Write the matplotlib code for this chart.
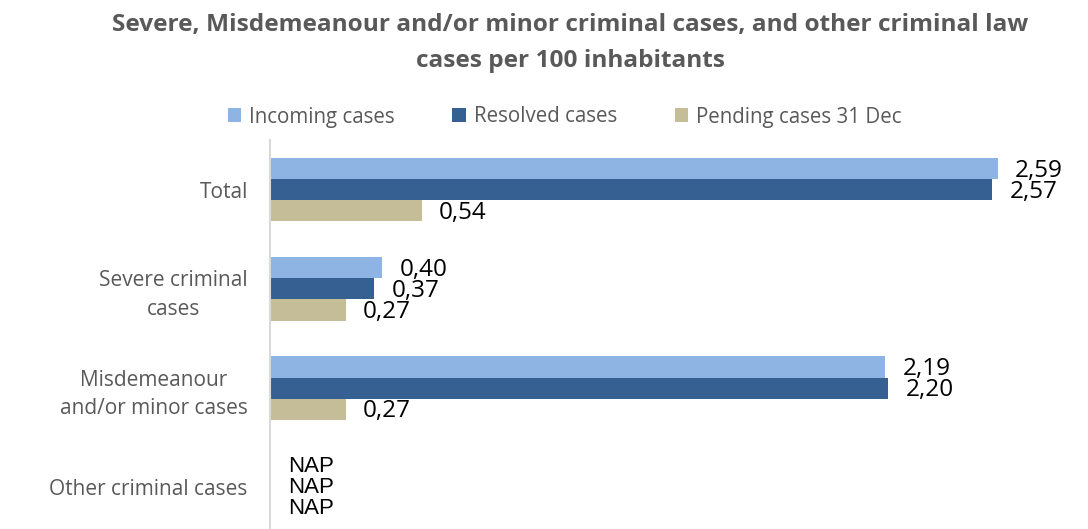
import numpy as np
import matplotlib.pyplot as plt

categories = ["Total", "Severe criminal\ncases", "Misdemeanour\nand/or minor cases", "Other criminal cases"]
series = ["Incoming cases", "Resolved cases", "Pending cases 31 Dec"]
incoming = [2.59, 0.40, 2.19, np.nan]
resolved = [2.57, 0.37, 2.20, np.nan]
pending = [0.54, 0.27, 0.27, np.nan]
colors = ["#8EB4E3", "#376092", "#C4BD97"]

fig = plt.figure(figsize=(10.88, 5.29), dpi=100)
W, H = 1088, 529
# axes spans from y=140px down to below the bottom edge (cropped in original)
ax = fig.add_axes([270 / W, 1 - 537 / H, (1085 - 270) / W, (537 - 140) / H])

y = np.arange(len(categories))
bh = 0.213
for i, (vals, col, name) in enumerate(zip([incoming, resolved, pending], colors, series)):
    pos = y + (i - 1) * bh
    ax.barh(pos, vals, height=bh, color=col, label=name)
    for p, v in zip(pos, vals):
        if np.isnan(v):
            ax.annotate("NAP", (0, p), xytext=(13, 0), textcoords="offset points",
                        va="center", ha="left", fontsize=16, family="Liberation Sans",
                        color="black")
        else:
            ax.annotate(f"{v:.2f}".replace(".", ","), (v, p), xytext=(12.5, -1.5),
                        textcoords="offset points", va="center", ha="left",
                        fontsize=17.5, family="Open Sans", color="black")

ax.set_ylim(3.5, -0.5)
ax.set_xlim(0, 2.9)
ax.set_yticks(y)
ax.set_yticklabels(categories, family="Open Sans", fontsize=15, color="#595959",
                   multialignment="center", linespacing=1.45)
ax.tick_params(axis="y", length=0, pad=16)
ax.set_xticks([])
for s in ["top", "right", "bottom"]:
    ax.spines[s].set_visible(False)
ax.spines["left"].set_color("#D9D9D9")
ax.spines["left"].set_linewidth(1.5)

fig.text(0.524, 1 - 43 / H, "Severe, Misdemeanour and/or minor criminal cases, and other criminal law\ncases per 100 inhabitants",
         ha="center", va="center", fontsize=17.6, fontweight="bold", family="Open Sans",
         color="#595959", linespacing=1.65)

leg = fig.legend(loc="center", bbox_to_anchor=(0.519, 1 - 117 / H), ncol=3, frameon=False,
                 prop={"family": "Open Sans", "size": 14.8}, handlelength=0.65, handleheight=0.65,
                 handletextpad=0.4, columnspacing=2.8)
for t in leg.get_texts():
    t.set_color("#595959")

fig.savefig("out.png", dpi=100)
